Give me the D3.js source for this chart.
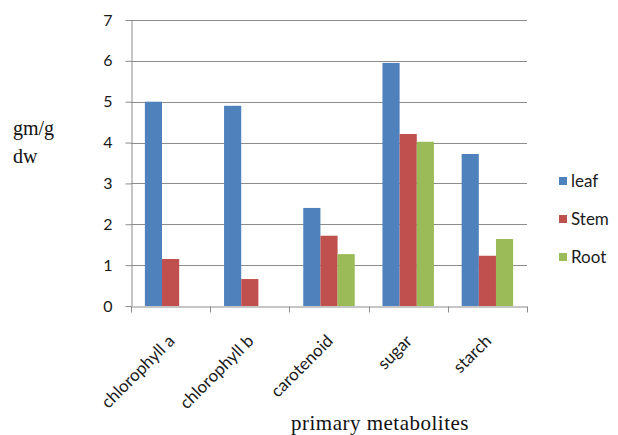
<!DOCTYPE html>
<html>
<head>
<meta charset="utf-8">
<script src="https://cdn.jsdelivr.net/npm/d3@7/dist/d3.min.js"></script>
<style>
  body { margin: 0; background: #fff; }
  svg { display: block; }
</style>
</head>
<body>
<svg id="chart" width="618" height="435"></svg>
<script>
// Primary metabolite content per plant part (gm/g dry weight)
const categories = ["chlorophyll a", "chlorophyll b", "carotenoid", "sugar", "starch"];
const seriesNames = ["leaf", "Stem", "Root"];
const leafValues = [5.0, 4.9, 2.4, 5.95, 3.72];
const stemValues = [1.15, 0.66, 1.72, 4.21, 1.23];
const rootValues = [null, null, 1.27, 4.02, 1.64];
const yTicks = [0, 1, 2, 3, 4, 5, 6, 7];
const colors = ["#4F81BD", "#C0504D", "#9BBB59"];

const allSeries = [leafValues, stemValues, rootValues];

const svg = d3.select("#chart");
const plot = { left: 131, right: 527, top: 20, bottom: 306 };

const x = d3.scaleBand()
  .domain(categories)
  .range([plot.left, plot.right])
  .paddingInner(0).paddingOuter(0);

const y = d3.scaleLinear()
  .domain([0, 7])
  .range([plot.bottom, plot.top]);

const groupWidth = x.bandwidth() * 0.65;
const xs = d3.scaleBand()
  .domain(d3.range(seriesNames.length))
  .range([(x.bandwidth() - groupWidth) / 2, (x.bandwidth() + groupWidth) / 2]);

const fontSans = "Lato, 'Open Sans', sans-serif";
const fontSerif = "'Liberation Serif', 'DejaVu Serif', serif";
const axisGrey = "#8c8c8c";

// horizontal gridlines
svg.append("g")
  .selectAll("line")
  .data(yTicks.filter(d => d > 0))
  .join("line")
  .attr("x1", plot.left).attr("x2", plot.right)
  .attr("y1", d => Math.round(y(d)) + 0.5).attr("y2", d => Math.round(y(d)) + 0.5)
  .attr("stroke", axisGrey).attr("stroke-width", 1);

// bars
const barData = [];
allSeries.forEach((vals, si) => {
  vals.forEach((v, ci) => {
    if (v != null) barData.push({ cat: categories[ci], si, v });
  });
});
svg.append("g")
  .selectAll("rect")
  .data(barData)
  .join("rect")
  .attr("x", d => x(d.cat) + xs(d.si))
  .attr("width", xs.bandwidth())
  .attr("y", d => y(d.v))
  .attr("height", d => y(0) - y(d.v))
  .attr("fill", d => colors[d.si]);

// y axis
const yAxis = svg.append("g")
  .attr("transform", `translate(${plot.left + 0.5},0)`)
  .call(d3.axisLeft(y).tickValues(yTicks).tickFormat(d3.format("d"))
    .tickSize(6).tickPadding(13).tickSizeOuter(0));
yAxis.select(".domain").attr("stroke", axisGrey);
yAxis.selectAll(".tick line").attr("stroke", axisGrey);
yAxis.selectAll(".tick text")
  .attr("font-family", fontSans).attr("font-size", 16).attr("fill", "#1a1a1a");

// x axis
const xAxis = svg.append("g")
  .attr("transform", `translate(0,${plot.bottom + 0.5})`)
  .call(d3.axisBottom(x).tickSize(0).tickSizeOuter(0));
xAxis.select(".domain").attr("stroke", axisGrey);
xAxis.selectAll(".tick line").remove();
xAxis.selectAll(".tick text").remove();
// tick marks at category boundaries
const bounds = categories.map(c => x(c)).concat([plot.right]);
xAxis.selectAll("line.bound")
  .data(bounds)
  .join("line")
  .attr("class", "bound")
  .attr("x1", d => Math.round(d) + 0.5).attr("x2", d => Math.round(d) + 0.5)
  .attr("y1", 0).attr("y2", 6)
  .attr("stroke", axisGrey);

// rotated category labels
svg.append("g")
  .selectAll("text")
  .data(categories)
  .join("text")
  .attr("transform", d => `translate(${x(d) + x.bandwidth() / 2 + 5},${plot.bottom + 36}) rotate(-45)`)
  .attr("text-anchor", "end")
  .attr("font-family", fontSans).attr("font-size", 17).attr("fill", "#1a1a1a")
  .text(d => d);

// axis titles
svg.append("text")
  .attr("x", 380).attr("y", 430)
  .attr("text-anchor", "middle")
  .attr("font-family", fontSerif).attr("font-size", 21)
  .attr("letter-spacing", 0.5).attr("fill", "#111")
  .text("primary metabolites");

const yTitle = svg.append("text")
  .attr("font-family", fontSerif).attr("font-size", 20).attr("fill", "#111");
yTitle.append("tspan").attr("x", 13).attr("y", 135).text("gm/g");
yTitle.append("tspan").attr("x", 13).attr("y", 163).text("dw");

// legend
const legend = svg.append("g");
const legendY = d3.scalePoint().domain(seriesNames).range([181, 257]);
seriesNames.forEach((name, i) => {
  const g = legend.append("g").attr("transform", `translate(559,${legendY(name)})`);
  g.append("rect").attr("x", 0).attr("y", -4).attr("width", 8).attr("height", 8).attr("fill", colors[i]);
  g.append("text").attr("x", 12).attr("y", 6)
    .attr("font-family", fontSans).attr("font-size", 17).attr("fill", "#1a1a1a")
    .text(name);
});
</script>
</body>
</html>
